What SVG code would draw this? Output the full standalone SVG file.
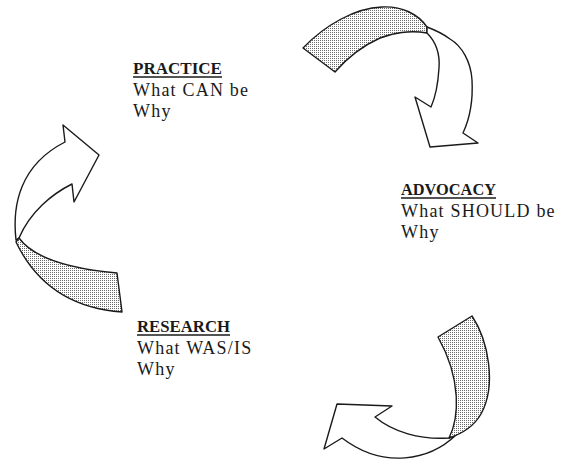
<svg xmlns="http://www.w3.org/2000/svg" width="562" height="464" viewBox="0 0 562 464">
<defs>
<pattern id="dots" width="2" height="2" patternUnits="userSpaceOnUse">
<rect width="2" height="2" fill="#ffffff"/>
<rect width="1" height="1" fill="#6a6a6a"/>
</pattern>
<style>
.shade{fill:url(#dots);stroke:#1a1a1a;stroke-width:1.4;stroke-linejoin:round}
.plain{fill:#ffffff;stroke:#1a1a1a;stroke-width:1.4;stroke-linejoin:round}
.head{font-family:"Liberation Serif","Times New Roman",serif;font-weight:bold;font-size:17px;fill:#1a1a1a}
.body{font-family:"Liberation Serif","Times New Roman",serif;font-size:18px;fill:#1a1a1a;letter-spacing:1.2px}
.ul{stroke:#1a1a1a;stroke-width:1.6}
</style>
</defs>
<rect width="562" height="464" fill="#ffffff"/>
<g id="connectors">
<g id="arrow-top">
<path class="shade" d="M303,48 C325,25 355,8 382,7 C402,6 418,14 427,27 L427,33 C410,30 392,33 380,38 C362,46 348,57 335,72 Z"/>
<path class="plain" d="M427,33 C436,42 440,55 439,68 C438,85 435,98 431,107 L415,97 L430,147 L478,143 L463,133 C470,118 473,98 472,80 C471,62 462,46 450,39 C442,33 435,30 427,27 Z"/>
</g>
<g id="arrow-left">
<path class="plain" d="M63,125 L99,155 L74,202 L72,184 C52,194 30,212 19,238 L16,240 C12,205 20,165 65,142 Z"/>
<path class="shade" d="M19,238 C32,256 62,268 117,273 L122,312 C80,309 40,292 16,242 Z"/>
</g>
<g id="arrow-bottom">
<path class="plain" d="M324,449 L337,404 L392,406 L375,417 C393,432 420,440 449,438 L456,435 C430,460 384,470 342,438 Z"/>
<path class="shade" d="M438,337 L472,316 C488,340 497,385 481,414 C473,428 461,434 449,438 C459,418 462,380 438,337 Z"/>
</g>
</g>
<g id="practice">
<text class="head" x="133" y="74" textLength="89" lengthAdjust="spacingAndGlyphs">PRACTICE</text>
<line class="ul" x1="133" y1="77" x2="222" y2="77"/>
<text class="body" x="133" y="96">What CAN be</text>
<text class="body" x="133" y="117">Why</text>
</g>
<g id="advocacy">
<text class="head" x="401" y="195" textLength="95" lengthAdjust="spacingAndGlyphs">ADVOCACY</text>
<line class="ul" x1="401" y1="198" x2="496" y2="198"/>
<text class="body" x="401" y="217">What SHOULD be</text>
<text class="body" x="401" y="238">Why</text>
</g>
<g id="research">
<text class="head" x="137" y="332" textLength="93" lengthAdjust="spacingAndGlyphs">RESEARCH</text>
<line class="ul" x1="137" y1="335" x2="230" y2="335"/>
<text class="body" x="137" y="354">What WAS/IS</text>
<text class="body" x="137" y="375">Why</text>
</g>
</svg>
